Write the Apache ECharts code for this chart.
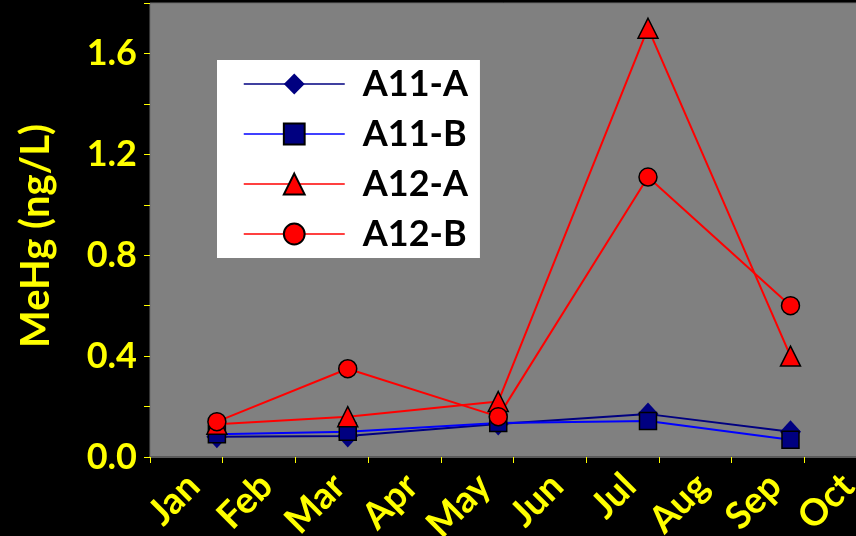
<!DOCTYPE html>
<html>
<head>
<meta charset="utf-8">
<script src="https://cdn.jsdelivr.net/npm/echarts@6/dist/echarts.min.js"></script>
<style>
html,body{margin:0;padding:0;background:#000;}
#chart{width:856px;height:536px;}
</style>
</head>
<body>
<div id="chart"></div>
<script>
// ---- data ----
const monthLabels = ['Jan','Feb','Mar','Apr','May','Jun','Jul','Aug','Sep','Oct'];
// sampling dates, in months since Jan 1
const sampleMonth = [0.92, 2.72, 4.79, 6.85, 8.81];
const seriesNames = ['A11-A','A11-B','A12-A','A12-B'];
const a11A = [0.08, 0.083, 0.131, 0.17, 0.10];
const a11B = [0.09, 0.10, 0.135, 0.143, 0.068];
const a12A = [0.13, 0.16, 0.22, 1.70, 0.40];
const a12B = [0.14, 0.35, 0.16, 1.11, 0.60];
const yTickValues = [0, 0.2, 0.4, 0.6, 0.8, 1.0, 1.2, 1.4, 1.6, 1.8];
const yLabelValues = [0, 0.4, 0.8, 1.2, 1.6];

const FONT = 'Lato';
const monthTicks = monthLabels.map((m, i) => i).concat([monthLabels.length]);
const monthLabelPos = monthLabels.map((m, i) => i + 0.6);

function pairs(vals){ return vals.map((v, i) => [sampleMonth[i], v]); }

const chart = echarts.init(document.getElementById('chart'), null, {renderer: 'canvas'});
chart.setOption({
  backgroundColor: '#000000',
  animation: false,
  grid: {
    left: 150, top: 3, bottom: 79, width: 727,
    outerBoundsMode: 'none', containLabel: false,
    show: true, backgroundColor: '#808080', borderColor: '#6a6a6a', borderWidth: 1
  },
  xAxis: {
    type: 'value', min: 0, max: 10, interval: 1,
    splitLine: {show: false},
    axisLine: {show: true, lineStyle: {color: '#5a5a5a', width: 2}},
    axisTick: {show: true, length: 6, lineStyle: {color: '#ffff00', width: 1}, customValues: monthTicks},
    axisLabel: {
      show: true, rotate: 45, margin: 23,
      customValues: monthLabelPos,
      formatter: v => monthLabels[Math.floor(v)] || '',
      color: '#ffff00', fontFamily: FONT, fontWeight: 'bold', fontSize: 37
    }
  },
  yAxis: {
    type: 'value', min: 0, max: 1.8, interval: 0.2,
    splitLine: {show: false},
    axisLine: {show: false},
    axisTick: {show: true, length: 6, lineStyle: {color: '#ffff00', width: 1}, customValues: yTickValues},
    axisLabel: {
      customValues: yLabelValues,
      formatter: v => v.toFixed(1),
      margin: 13, color: '#ffff00', fontFamily: FONT, fontWeight: 'bold', fontSize: 36,
      padding: [10, 0, 0, 0]
    },
    name: 'MeHg (ng/L)', nameLocation: 'middle', nameGap: 94,
    nameTextStyle: {color: '#ffff00', fontFamily: FONT, fontWeight: 'bold', fontSize: 40, padding: [0, 12, 0, 0]}
  },
  legend: {
    show: true, orient: 'vertical', left: 217, top: 60,
    backgroundColor: '#ffffff', padding: [6, 12, 6, 26],
    itemWidth: 101, itemHeight: 26, itemGap: 14,
    lineStyle: {width: 1.5},
    textStyle: {color: '#000000', fontFamily: FONT, fontWeight: 'bold', fontSize: 36, lineHeight: 36, padding: [0, 0, 0, 13]},
    data: seriesNames
  },
  series: [
    {
      name: seriesNames[0], type: 'line', data: pairs(a11A),
      symbol: 'diamond', symbolSize: [21, 23],
      lineStyle: {color: '#000080', width: 2},
      itemStyle: {color: '#000080', borderWidth: 0}
    },
    {
      name: seriesNames[1], type: 'line', data: pairs(a11B),
      symbol: 'rect', symbolSize: 17,
      lineStyle: {color: '#0000ff', width: 2},
      itemStyle: {color: '#000080', borderColor: '#000000', borderWidth: 1.5}
    },
    {
      name: seriesNames[2], type: 'line', data: pairs(a12A),
      symbol: 'triangle', symbolSize: [20, 20],
      lineStyle: {color: '#ff0000', width: 2},
      itemStyle: {color: '#ff0000', borderColor: '#000000', borderWidth: 1.5}
    },
    {
      name: seriesNames[3], type: 'line', data: pairs(a12B),
      symbol: 'circle', symbolSize: 18,
      lineStyle: {color: '#ff0000', width: 2},
      itemStyle: {color: '#ff0000', borderColor: '#000000', borderWidth: 1.5}
    }
  ]
});
</script>
</body>
</html>
